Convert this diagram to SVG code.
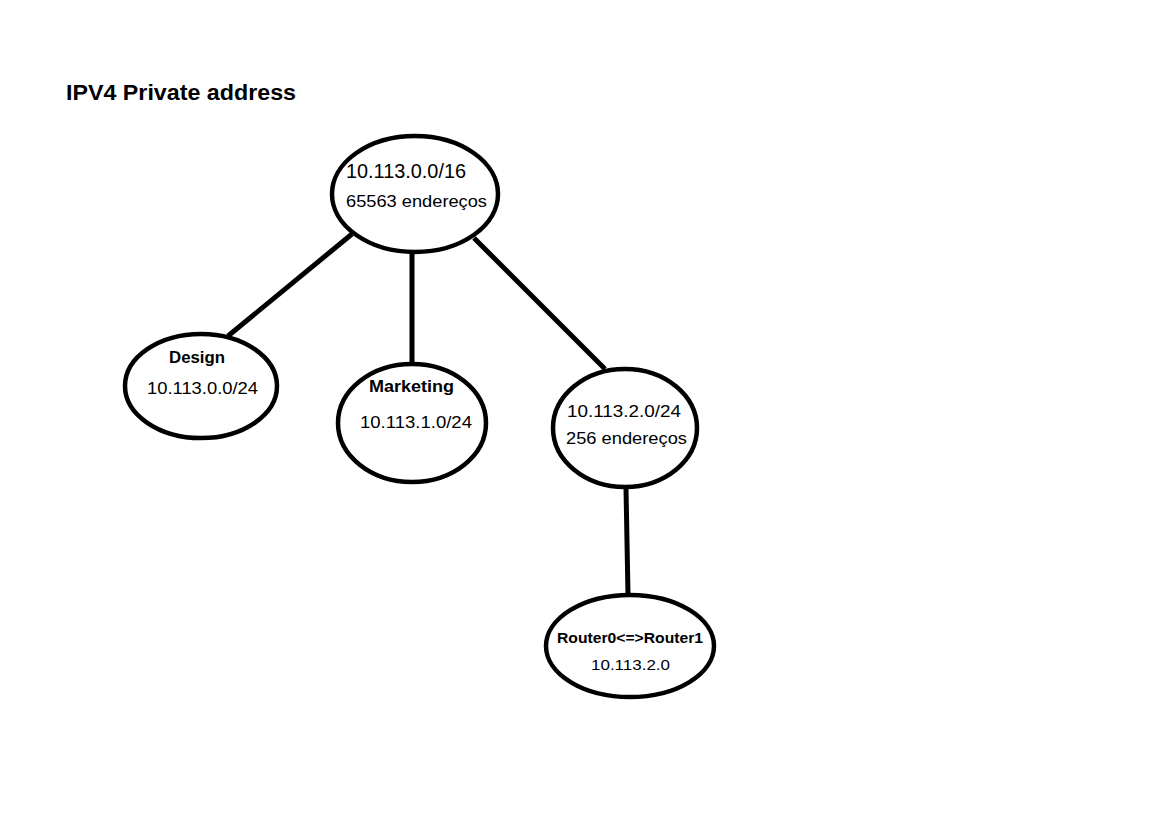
<svg xmlns="http://www.w3.org/2000/svg" width="1152" height="831" viewBox="0 0 1152 831">
<style>
.n{fill:#fff;stroke:#000;stroke-width:4.5}
.c line{stroke:#000;stroke-width:5;stroke-linecap:butt}
text{font-family:"Liberation Sans","Noto Sans",sans-serif;fill:#000}
.b{font-weight:bold}
</style>
<rect width="1152" height="831" fill="#fff"/>
<text class="b" x="66" y="100" font-size="22" textLength="230" lengthAdjust="spacingAndGlyphs">IPV4 Private address</text>
<g class="c" id="connectors">
<line x1="352" y1="234" x2="228" y2="336"/>
<line x1="412" y1="252" x2="412" y2="364"/>
<line x1="474" y1="238" x2="605" y2="369"/>
<line x1="626" y1="488" x2="628" y2="595"/>
</g>
<g id="root">
<ellipse class="n" cx="415" cy="194" rx="83" ry="58"/>
<text x="346" y="178" font-size="20" textLength="120" lengthAdjust="spacingAndGlyphs">10.113.0.0/16</text>
<text x="346" y="207" font-size="17" textLength="141" lengthAdjust="spacingAndGlyphs">65563 endereços</text>
</g>
<g id="design">
<ellipse class="n" cx="201" cy="386" rx="76" ry="52"/>
<text class="b" x="169" y="363" font-size="16" textLength="56" lengthAdjust="spacingAndGlyphs">Design</text>
<text x="147" y="394" font-size="17" textLength="111" lengthAdjust="spacingAndGlyphs">10.113.0.0/24</text>
</g>
<g id="marketing">
<ellipse class="n" cx="412" cy="423" rx="74" ry="59"/>
<text class="b" x="369" y="392" font-size="16" textLength="85" lengthAdjust="spacingAndGlyphs">Marketing</text>
<text x="360" y="428" font-size="17" textLength="112" lengthAdjust="spacingAndGlyphs">10.113.1.0/24</text>
</g>
<g id="subnet2">
<ellipse class="n" cx="625" cy="428" rx="72" ry="59"/>
<text x="567" y="417" font-size="17" textLength="114" lengthAdjust="spacingAndGlyphs">10.113.2.0/24</text>
<text x="566" y="444" font-size="17" textLength="121" lengthAdjust="spacingAndGlyphs">256 endereços</text>
</g>
<g id="router">
<ellipse class="n" cx="630" cy="646" rx="84" ry="51"/>
<text class="b" x="557" y="643" font-size="14" textLength="146" lengthAdjust="spacingAndGlyphs">Router0&lt;=&gt;Router1</text>
<text x="591" y="670" font-size="15" textLength="79" lengthAdjust="spacingAndGlyphs">10.113.2.0</text>
</g>
</svg>
